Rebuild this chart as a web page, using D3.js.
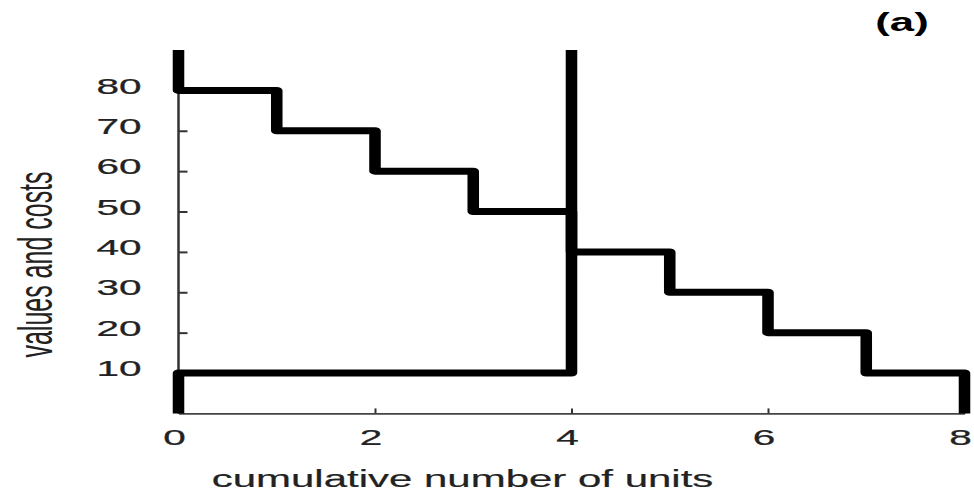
<!DOCTYPE html>
<html>
<head>
<meta charset="utf-8">
<script src="https://cdn.jsdelivr.net/npm/d3@7"></script>
<style>
  html, body { margin: 0; padding: 0; background: #fff; }
  svg { display: block; font-family: "Liberation Sans", Arial, sans-serif; }
</style>
</head>
<body>
<svg id="chart" width="974" height="492"></svg>
<script>
// ---- data ----
const demandValues = [80, 70, 60, 50, 40, 30, 20, 10];   // value of each unit (buyers)
const supplyCosts  = [10, 10, 10, 10];                   // cost of each unit (sellers)
const xTicks = [0, 2, 4, 6, 8];
const yTicks = [10, 20, 30, 40, 50, 60, 70, 80];
const yTop = 90;
const xTitle = "cumulative number of units";
const yTitle = "values and costs";
const panelLabel = "(a)";

// ---- layout ----
const svg = d3.select("#chart");
const SX = 1.65; // horizontal stretch of the original picture
const x = d3.scaleLinear().domain([0, 8]).range([178.5, 964.5]);
const y = d3.scaleLinear().domain([0, yTop]).range([413.4, 50]);
const xs = d3.scaleLinear().domain([0, 8]).range([178.5 / SX, 964.5 / SX]);

// axes
const yAxis = d3.axisLeft(y).tickValues(yTicks).tickSizeInner(-9).tickSizeOuter(0).tickFormat(d3.format("d"));
const gy = svg.append("g").attr("transform", `translate(${x(0)},0)`).call(yAxis);
gy.select(".domain").attr("stroke", "#333").attr("stroke-width", 2.5).attr("d", `M0,${y(0)}V${y(yTop)}`);
gy.selectAll(".tick line").attr("stroke", "#333").attr("stroke-width", 2);
gy.selectAll(".tick text")
  .attr("x", 0).attr("dy", null)
  .attr("text-anchor", "end")
  .attr("font-size", 22.5)
  .attr("fill", "#222")
  .attr("stroke", "#222").attr("stroke-width", 0.25)
  .attr("transform", "translate(-37,2.7) scale(1.8,1)");

const xAxis = d3.axisBottom(x).tickValues(xTicks).tickSizeInner(-5).tickSizeOuter(0).tickFormat(d3.format("d"));
const gx = svg.append("g").attr("transform", `translate(0,${y(0)})`).call(xAxis);
gx.select(".domain").attr("stroke", "#444").attr("stroke-width", 1.6);
gx.selectAll(".tick line").attr("stroke", "#333").attr("stroke-width", 2);
gx.selectAll(".tick text")
  .attr("y", 0).attr("dy", null)
  .attr("text-anchor", "middle")
  .attr("font-size", 22.5)
  .attr("fill", "#222")
  .attr("stroke", "#222").attr("stroke-width", 0.25)
  .attr("transform", "translate(-4.5,31.7) scale(1.8,1)");

// step curves
const demandPts = [[0, yTop]];
demandValues.forEach((v, i) => { demandPts.push([i, v]); demandPts.push([i + 1, v]); });
demandPts.push([demandValues.length, 0]);

const supplyPts = [[0, 0]];
supplyCosts.forEach((c, i) => { supplyPts.push([i, c]); supplyPts.push([i + 1, c]); });
supplyPts.push([supplyCosts.length, yTop]);

const line = d3.line().x(d => xs(d[0])).y(d => y(d[1]));
const curves = svg.append("g").attr("transform", `scale(${SX},1)`);
[demandPts, supplyPts].forEach(pts => {
  curves.append("path")
    .attr("d", line(pts))
    .attr("fill", "none")
    .attr("stroke", "#000")
    .attr("stroke-width", 7)
    .attr("stroke-linejoin", "round")
    .attr("stroke-linecap", "butt");
});

// titles
svg.append("text")
  .attr("transform", "translate(462.5,487) scale(1.75,1)")
  .attr("text-anchor", "middle")
  .attr("font-size", 24)
  .attr("fill", "#222")
  .attr("stroke", "#222").attr("stroke-width", 0.2)
  .text(xTitle);

svg.append("text")
  .attr("transform", "translate(52,264.5) scale(1.95,1) rotate(-90)")
  .attr("text-anchor", "middle")
  .attr("font-size", 25)
  .attr("fill", "#222")
  .text(yTitle);

svg.append("text")
  .attr("transform", "translate(902,31) scale(1.75,1)")
  .attr("text-anchor", "middle")
  .attr("font-size", 25)
  .attr("font-weight", "bold")
  .attr("fill", "#000")
  .text(panelLabel);
</script>
</body>
</html>
